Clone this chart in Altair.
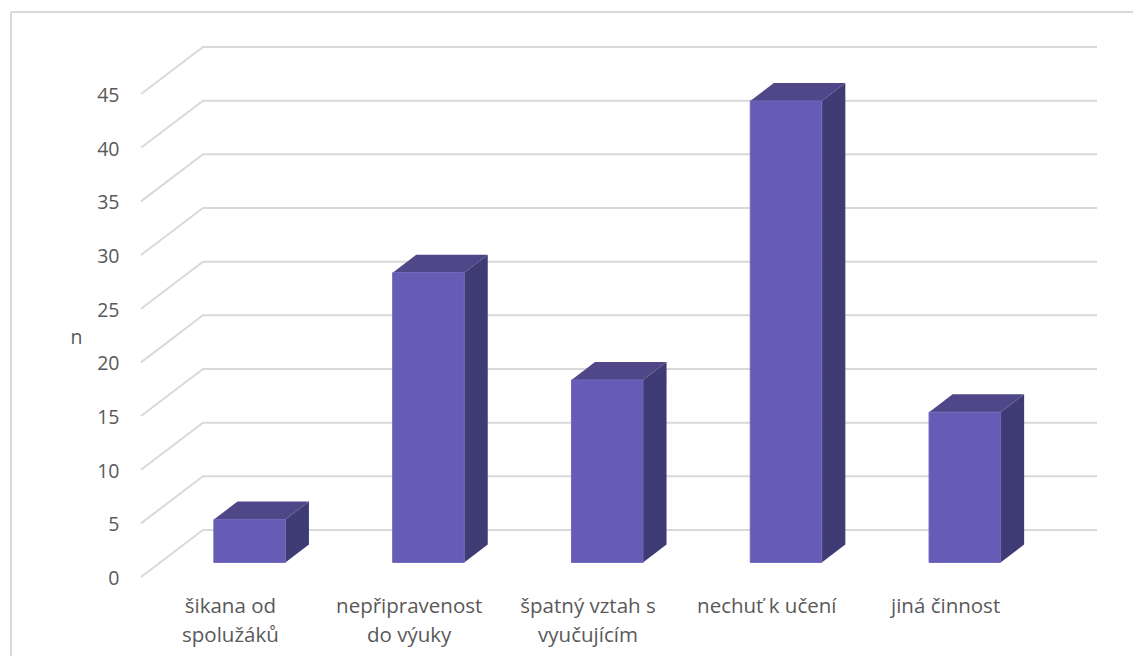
import altair as alt
import pandas as pd

categories = ["šikana od\nspolužáků", "nepřipravenost\ndo výuky", "špatný vztah s\nvyučujícím", "nechuť k učení", "jiná činnost"]
values = [4, 27, 17, 43, 14]
ticks = [0, 5, 10, 15, 20, 25, 30, 35, 40, 45]

# oblique projection of depth, in data units
DX = 0.3468
DY = 4.384
D0 = 0.31
D1 = 0.69
BAR_LEFT = 0.3
BAR_W = 0.4
N = len(categories)
XDOM = [0, N + DX]
YDOM = [0, 45 + DY]

FONT = "Open Sans"
GRID = "#d9d9d9"
TEXT = "#595959"
FS = 19.5
FSX = 20.5

xs = alt.Scale(domain=XDOM, nice=False, zero=False)
ys = alt.Scale(domain=YDOM, nice=False, zero=False)
yaxis = alt.Axis(
    values=ticks, grid=False, domain=False, ticks=False, labelFont=FONT, labelFontSize=FS,
    labelColor=TEXT, labelPadding=22, labelOffset=1.5, title="n", titleFont=FONT, titleFontSize=FS,
    titleFontWeight="normal", titleColor=TEXT, titleAngle=0, titleX=-65, titleY=290,
    titleAlign="center", titleBaseline="middle")
X = lambda: alt.X("x:Q", scale=xs, axis=None)
Y = lambda: alt.Y("y:Q", scale=ys, axis=yaxis)

wall = []
for t in ticks:
    wall += [
        dict(t=t, o=0, x=0, y=t),
        dict(t=t, o=1, x=DX, y=t + DY),
        dict(t=t, o=2, x=N + DX, y=t + DY),
    ]
walls = alt.Chart(pd.DataFrame(wall)).mark_line(color=GRID, strokeWidth=2, strokeJoin="miter").encode(
    x=X(), y=Y(), detail="t:N", order="o:Q",
)

front, side, top = [], [], []
for i, v in enumerate(values):
    l0 = i + BAR_LEFT + D0 * DX
    l1 = i + BAR_LEFT + D1 * DX
    b0, b1 = D0 * DY, D1 * DY
    t0, t1 = v + b0, v + b1
    front.append(dict(i=i, x=l0, x2=l0 + BAR_W, y=b0, y2=t0))
    side += [dict(i=i, x=l0 + BAR_W, y=b0, y2=t0), dict(i=i, x=l1 + BAR_W, y=b1, y2=t1)]
    top += [dict(i=i, x=l0, x2=l0 + BAR_W, y=t0), dict(i=i, x=l1, x2=l1 + BAR_W, y=t1)]

side_m = alt.Chart(pd.DataFrame(side)).mark_area(color="#3f3b74", orient="vertical").encode(
    x=X(), y=Y(), y2="y2:Q", detail="i:N")
top_m = alt.Chart(pd.DataFrame(top)).mark_area(color="#4f4788", orient="horizontal").encode(
    y=Y(), x=X(), x2="x2:Q", detail="i:N")
front_m = alt.Chart(pd.DataFrame(front)).mark_rect(color="#665cb5", stroke="#7067bd", strokeWidth=1).encode(
    x=X(), x2="x2:Q", y=Y(), y2="y2:Q")

labels = pd.DataFrame(dict(x=[i + 0.5 for i in range(N)], y=[0] * N, label=categories))
label_m = alt.Chart(labels).mark_text(
    font=FONT, fontSize=FSX, color=TEXT, lineBreak="\n", lineHeight=29, baseline="top", align="center", dy=20
).encode(x=X(), y=Y(), text="label:N")

border = pd.DataFrame(dict(a=[0]))
b_top = alt.Chart(border).mark_rule(color=GRID, strokeWidth=2).encode(
    x=alt.value(-130), x2=alt.value(1010), y=alt.value(-35))
b_left = alt.Chart(border).mark_rule(color=GRID, strokeWidth=2).encode(
    x=alt.value(-130), y=alt.value(-35), y2=alt.value(640))

chart = alt.layer(walls, b_top, b_left, side_m, top_m, front_m, label_m).properties(
    width=956, height=530,
    autosize=alt.AutoSizeParams(type="none"),
    padding={"left": 133, "top": 39, "right": 36, "bottom": 79},
    background="#ffffff",
).configure_view(stroke=None)

chart.save("out.html", embed_options={"renderer": "svg", "actions": False})
